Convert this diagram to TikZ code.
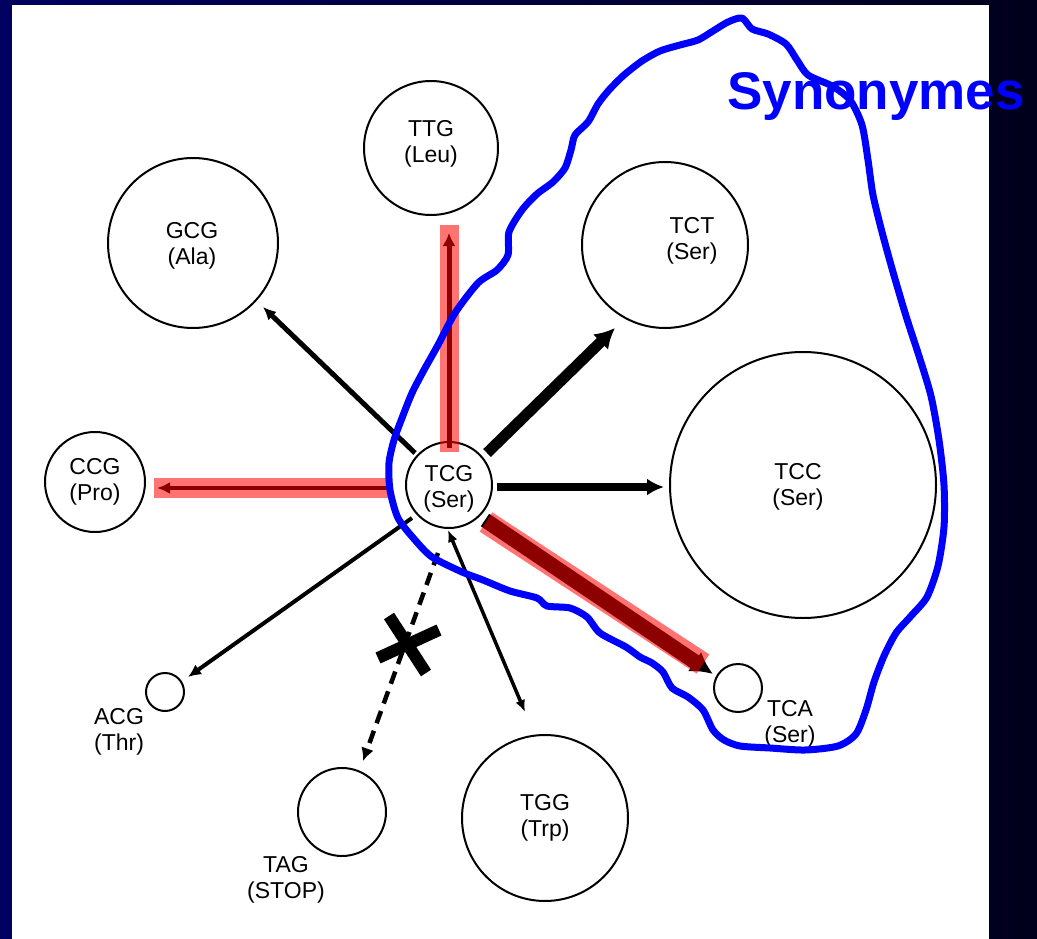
\documentclass[tikz,border=0pt]{standalone}
\usepackage{fontspec}
\setmainfont{Liberation Sans}
\usetikzlibrary{arrows.meta}
\definecolor{navyL}{RGB}{0,0,96}
\definecolor{navyR}{RGB}{0,0,28}
\definecolor{synblue}{RGB}{0,0,255}
\begin{document}
\begin{tikzpicture}[x=1pt,y=-1pt,
  codon/.style={circle, draw, line width=2pt, inner sep=0pt},
  lbl/.style={font=\fontsize{23}{26}\selectfont, align=center, inner sep=0pt},
  hl/.style={fill=red, fill opacity=0.55, draw=none},
  hlline/.style={draw=red, draw opacity=0.55, line width=23pt},
  link/.style={line width=#1, -{Latex[length=13pt,width=12pt]}},
  link/.default=4pt,
]
\useasboundingbox (0,0) rectangle (1037,939);
\fill[left color=navyL, right color=navyR] (0,0) rectangle (1037,939);
\fill[white] (12,5) rectangle (989,939);

% circles
\node[codon, minimum size=134pt] (ttg) at (431,148) {};
\node[codon, minimum size=170pt] (gcg) at (193,243) {};
\node[codon, minimum size=166pt] (tct) at (665,245) {};
\node[codon, minimum size=266pt] (tcc) at (803,485) {};
\node[codon, minimum size=86pt] (tcg) at (449,485) {};
\node[codon, minimum size=100pt] (ccg) at (95,482) {};
\node[codon, minimum size=38pt] (acg) at (165,692) {};
\node[codon, minimum size=48pt] (tca) at (738,688) {};
\node[codon, minimum size=88pt] (tag) at (342,812) {};
\node[codon, minimum size=166pt] (tgg) at (545,818) {};

% labels
\node[lbl] (lttg) at (431,144) {TTG\\(Leu)};
\node[lbl] (lgcg) at (192,246) {GCG\\(Ala)};
\node[lbl] (ltct) at (692,241) {TCT\\(Ser)};
\node[lbl] (ltcc) at (798,487) {TCC\\(Ser)};
\node[lbl] (ltcg) at (449,489) {TCG\\(Ser)};
\node[lbl] (lccg) at (95,482) {CCG\\(Pro)};
\node[lbl] (lacg) at (119,732) {ACG\\(Thr)};
\node[lbl] (ltca) at (790,724) {TCA\\(Ser)};
\node[lbl] (ltag) at (286,880) {TAG\\(STOP)};
\node[lbl] (ltgg) at (545,818) {TGG\\(Trp)};

% arrow end points
\coordinate (sGCG) at (415,453); \coordinate (eGCG) at (263,307);
\coordinate (sTCT) at (487,453); \coordinate (eTCT) at (615,328);
\coordinate (sTCC) at (497,487); \coordinate (eTCC) at (664,487);
\coordinate (sTTG) at (449,448); \coordinate (eTTG) at (449,233);
\coordinate (sCCG) at (388,488); \coordinate (eCCG) at (157,488);
\coordinate (sACG) at (412,518); \coordinate (eACG) at (188,677);
\coordinate (sTGG) at (448,530); \coordinate (eTGG) at (525,712);
\coordinate (sTAG) at (438,553); \coordinate (eTAG) at (363,761);
\coordinate (sTCA) at (485,520); \coordinate (eTCA) at (713,674);

% black arrows
\draw[link=5pt] (sGCG) -- (eGCG);
\draw[line width=11pt, -{Latex[length=20pt,width=22pt]}] (sTCT) -- (eTCT);
\draw[line width=8pt, -{Latex[length=17pt,width=17pt]}] (sTCC) -- (eTCC);
\draw[line width=5pt, -{Latex[length=13pt,width=13pt]}] (sTTG) -- (eTTG);
\draw[line width=4pt, -{Latex[length=13pt,width=12pt]}] (sCCG) -- (eCCG);
\draw[link=4pt] (sACG) -- (eACG);
\draw[line width=3.5pt, {Latex[length=12pt,width=10pt]}-{Latex[length=12pt,width=10pt]}] (sTGG) -- (eTGG);
\draw[line width=4.5pt, dash pattern=on 13pt off 8pt, -{Latex[length=13pt,width=13pt]}] (sTAG) -- (eTAG);
\draw[line width=15pt, -{Latex[length=22pt,width=24pt]}] (sTCA) -- (eTCA);

% cross on the dashed arrow
\coordinate (x1a) at (389,616); \coordinate (x1b) at (426,673);
\coordinate (x2a) at (378,658); \coordinate (x2b) at (439,630);
\draw[line width=12pt] (x1a) -- (x1b);
\draw[line width=12pt] (x2a) -- (x2b);

% red highlights
\fill[hl] (440,225) rectangle (459,452);
\fill[hl] (154,478) rectangle (392,498);
\coordinate (hTCAa) at (486,522); \coordinate (hTCAb) at (703,664);
\draw[hlline] (hTCAa) -- (hTCAb);

% synonym outline
\draw[synblue, line width=7pt, line join=round]
  plot[smooth cycle, tension=0.45] coordinates {
  (742,18) (752,29) (768,34) (786,44) (797,60) (808,75) (832,86) (850,100) (862,125)
  (868,160) (873,195) (882,232) (893,272) (906,316) (919,356) (931,396) (939,440)
  (944,485) (944,527) (938,566) (927,597) (911,616) (896,633) (884,656) (874,682)
  (866,710) (856,734) (838,746) (805,750) (770,748) (740,746) (724,740) (713,730)
  (703,710) (688,697) (672,688) (663,672) (652,663) (640,657) (626,647) (600,633)
  (587,617) (570,608) (547,606) (537,598) (510,591) (483,580) (462,572) (432,557)
  (415,540) (398,518) (390,490) (389,463) (394,440) (402,418) (412,393) (424,370)
  (438,345) (455,313) (478,283) (497,270) (508,255) (509,232) (522,210) (537,194)
  (553,182) (565,168) (571,150) (575,135) (588,122) (598,104) (609,90) (624,75)
  (642,61) (660,51) (680,45) (698,40) (713,31) (728,22)};

\node[font=\fontsize{53}{53}\selectfont\bfseries, text=synblue, anchor=base west, inner sep=0pt] (syn) at (727,110) {Synonymes};
\end{tikzpicture}
\end{document}
